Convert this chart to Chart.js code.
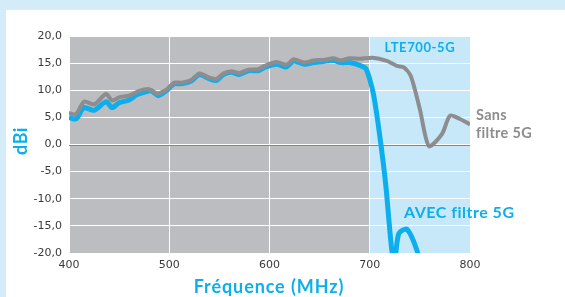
<!DOCTYPE html>
<html>
<head>
<meta charset="utf-8">
<script src="https://cdn.jsdelivr.net/npm/chart.js@4"></script>
<style>
  html, body { margin: 0; padding: 0; background: #d4ecf9; }
  #card { position: absolute; left: 6px; top: 10px; width: 559px; height: 287px; background: #fff; }
  #wrap { position: absolute; left: 0; top: 0; width: 565px; height: 297px; }
</style>
</head>
<body>
<div id="card"></div>
<div id="wrap"><canvas id="chart" width="565" height="297"></canvas></div>
<script>
// gain curves (MHz / dBi)
const freqSans = [400, 407, 415, 425, 437, 443, 450, 460, 470, 480, 488, 497, 505, 512, 522, 530, 539, 547, 554, 562, 570, 579, 589, 595, 607, 617, 624, 635, 644, 654, 664, 671, 680, 690, 703, 717, 727, 734, 741, 750, 759, 772, 780, 790, 800];
const gainSans = [5.8, 5.6, 7.9, 7.4, 9.3, 8.1, 8.7, 9.0, 9.9, 10.2, 9.4, 10.1, 11.4, 11.4, 11.9, 13.1, 12.4, 12.1, 13.1, 13.5, 13.2, 13.8, 13.9, 14.5, 15.2, 14.7, 15.7, 15.1, 15.5, 15.6, 15.9, 15.5, 15.9, 15.8, 16.0, 15.4, 14.5, 14.2, 12.6, 6.5, -0.3, 1.9, 5.3, 4.7, 3.7];

const freqAvec = [400, 407, 415, 425, 437, 443, 450, 460, 467, 475, 482, 489, 497, 505, 512, 522, 530, 539, 547, 554, 562, 570, 579, 589, 595, 607, 617, 624, 635, 644, 654, 664, 671, 680, 690, 696, 700, 704, 710, 716, 722, 725, 729, 737, 747, 752];
const gainAvec = [5.0, 4.7, 6.8, 6.3, 7.9, 6.8, 7.7, 8.2, 9.1, 9.6, 9.9, 9.0, 9.9, 11.2, 11.2, 11.7, 12.9, 12.2, 11.8, 12.9, 13.3, 12.9, 13.6, 13.6, 14.2, 14.8, 14.3, 15.4, 14.8, 15.1, 15.3, 15.5, 15.1, 15.1, 14.6, 14.0, 12.0, 9.0, 1.6, -7.5, -19.5, -21, -16.4, -15.6, -19.5, -24];

const xTicks = [400, 500, 600, 700, 800];
const yTicks = [-20, -15, -10, -5, 0, 5, 10, 15, 20];

const BLUE = "#0cafec";
const GREY = "#8d8d8f";

function toPoints(xs, ys) {
  return xs.map((x, i) => ({ x: x, y: ys[i] }));
}

function label(ctx, text, x, y, size, spacing) {
  ctx.font = "bold " + size + "px Lato";
  ctx.letterSpacing = spacing + "px";
  ctx.fillText(text, x, y);
}

const bandPlugin = {
  id: "band",
  beforeDraw(chart) {
    const ctx = chart.ctx;
    const a = chart.chartArea;
    const x = chart.scales.x;
    const x700 = x.getPixelForValue(700);
    ctx.save();
    ctx.fillStyle = "#bcbdc0";
    ctx.fillRect(a.left, a.top, x700 - a.left, a.bottom - a.top);
    ctx.fillStyle = "#c6e8f8";
    ctx.fillRect(x700, a.top, a.right - x700, a.bottom - a.top);
    ctx.restore();
  },
  afterDatasetsDraw(chart) {
    const ctx = chart.ctx;
    const x = chart.scales.x;
    const y = chart.scales.y;
    ctx.save();
    // zero line
    ctx.strokeStyle = BLUE;
    ctx.lineWidth = 1;
    ctx.beginPath();
    ctx.moveTo(chart.chartArea.left, Math.round(y.getPixelForValue(0)) + 0.5);
    ctx.lineTo(chart.chartArea.right, Math.round(y.getPixelForValue(0)) + 0.5);
    ctx.stroke();
    ctx.textBaseline = "alphabetic";
    ctx.fillStyle = BLUE;
    ctx.textAlign = "center";
    label(ctx, "LTE700-5G", x.getPixelForValue(750), 52, 13, 0.6);
    ctx.textAlign = "left";
    label(ctx, "AVEC filtre 5G", 404, 218, 16, 0.5);
    ctx.fillStyle = GREY;
    label(ctx, "Sans", 476, 120, 14.5, 0.3);
    label(ctx, "filtre 5G", 476, 138, 14.5, 0.3);
    // axis titles
    ctx.fillStyle = BLUE;
    ctx.textAlign = "center";
    label(ctx, "Fréquence (MHz)", 269, 293, 18, 0.9);
    ctx.translate(27, 141);
    ctx.rotate(-Math.PI / 2);
    label(ctx, "dBi", 0, 0, 18, 0.5);
    ctx.restore();
  }
};

new Chart(document.getElementById("chart"), {
  type: "line",
  data: {
    datasets: [
      {
        label: "Sans filtre 5G",
        data: toPoints(freqSans, gainSans),
        borderColor: GREY,
        borderWidth: 4,
        pointRadius: 0,
        tension: 0.25,
        fill: false
      },
      {
        label: "AVEC filtre 5G",
        data: toPoints(freqAvec, gainAvec),
        borderColor: BLUE,
        borderWidth: 5,
        pointRadius: 0,
        tension: 0.25,
        fill: false
      }
    ]
  },
  options: {
    responsive: false,
    animation: false,
    layout: { padding: { top: 36, right: 95, left: 0, bottom: 0 } },
    plugins: { legend: { display: false }, tooltip: { enabled: false } },
    scales: {
      x: {
        type: "linear",
        min: 400,
        max: 800,
        afterFit(s) { s.height = 44; },
        afterBuildTicks(s) { s.ticks = xTicks.map(v => ({ value: v })); },
        grid: { color: "#ffffff", lineWidth: 1, drawTicks: false },
        border: { display: false },
        ticks: { color: "#3a3a3a", font: { family: "DejaVu Sans", size: 11 }, padding: 6 }
      },
      y: {
        min: -20,
        max: 20,
        afterFit(s) { s.width = 69; },
        afterBuildTicks(s) { s.ticks = yTicks.map(v => ({ value: v })); },
        grid: { color: "#ffffff", lineWidth: 1, drawTicks: false },
        border: { display: false },
        ticks: {
          color: "#3a3a3a",
          font: { family: "DejaVu Sans", size: 11 },
          padding: 7,
          callback: v => v.toFixed(1).replace(".", ",")
        }
      }
    }
  },
  plugins: [bandPlugin]
});
</script>
</body>
</html>
